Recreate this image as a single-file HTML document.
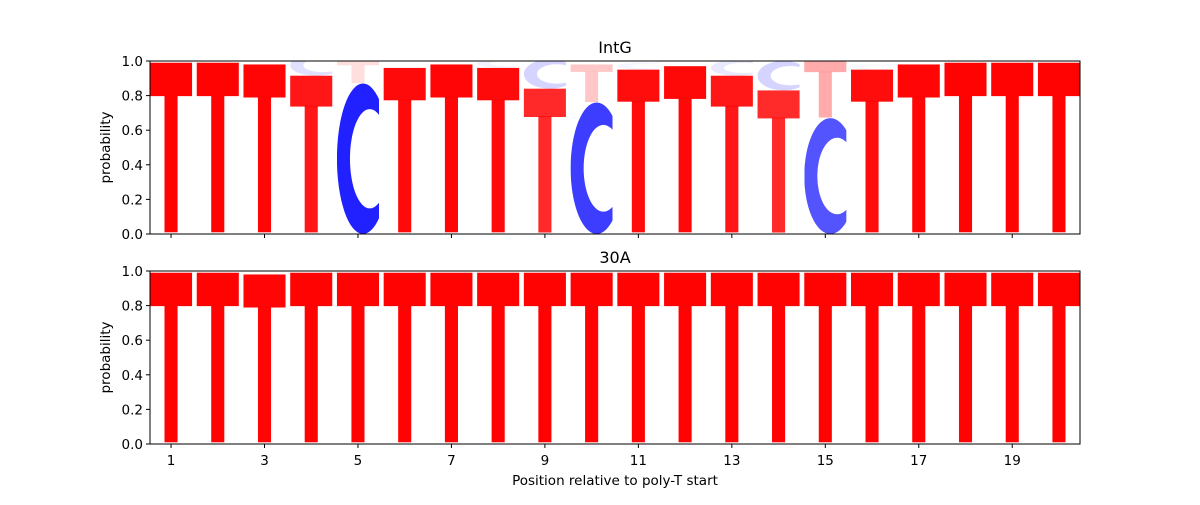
<!DOCTYPE html>
<html><head><meta charset="utf-8"><style>
html,body{margin:0;padding:0;background:#fff;}
svg text{font-family:"DejaVu Sans","Liberation Sans",sans-serif;fill:#000;}
</style></head><body>
<svg id="chart" width="1200" height="500" viewBox="0 0 1200 500" xmlns="http://www.w3.org/2000/svg">
<defs id="defs"></defs>
</svg>
<script>
const positions=[1,2,3,4,5,6,7,8,9,10,11,12,13,14,15,16,17,18,19,20];
const intgT=[0.99,0.99,0.98,0.915,0.13,0.96,0.98,0.96,0.84,0.22,0.95,0.97,0.915,0.83,0.33,0.95,0.98,0.99,0.99,0.99];
const intgC=[0,0,0,0.12,0.87,0,0,0.05,0.17,0.76,0.04,0,0.09,0.17,0.67,0.03,0,0,0,0];
const a30T=[0.99,0.99,0.98,0.99,0.99,0.99,0.99,0.99,0.99,0.99,0.99,0.99,0.99,0.99,0.99,0.99,0.99,0.99,0.99,0.99];
const a30C=[0,0,0,0,0,0,0,0,0,0,0,0,0,0,0,0,0,0,0,0];
const yTicks=[0,0.2,0.4,0.6,0.8,1.0];
const xTicks=[1,3,5,7,9,11,13,15,17,19];

const NS="http://www.w3.org/2000/svg";
const svg=document.getElementById('chart');
const defs=document.getElementById('defs');
const X0=150,X1=1080,XMIN=0.55,XMAX=20.45;
function xs(v){return X0+(v-XMIN)/(XMAX-XMIN)*(X1-X0);}
function mk(tag,attrs,parent){const e=document.createElementNS(NS,tag);for(const k in attrs)e.setAttribute(k,attrs[k]);(parent||svg).appendChild(e);return e;}
let mid=0;

function panel(top,bottom,title,T,C,showXLabels,pname){
  const ys=v=>bottom-(v)*(bottom-top);
  const g=mk('g',{});
  
  
  const cp=mk('clipPath',{id:'clip-'+pname},defs);
  mk('rect',{x:X0,y:top,width:X1-X0,height:bottom-top},cp);
  const marks=mk('g',{'clip-path':'url(#clip-'+pname+')'},g);
  const uw=(X1-X0)/(XMAX-XMIN);
  positions.forEach((p,i)=>{
    const w=0.9*uw, x0=xs(p)-w/2;
    const stack=[];
    if(T[i]>0)stack.push(['T',T[i]]);
    if(C[i]>0)stack.push(['C',C[i]]);
    stack.sort((a,b)=>b[1]-a[1]);
    let base=0;
    stack.forEach(([L,v])=>{
      const yb=ys(base), yt=ys(base+v), h=yb-yt;
      if(L==='T'){
        const tg=mk('g',{fill:'#ff0000','fill-opacity':v},marks);
        
        
        mk('rect',{x:x0,y:yt,width:w,height:h*0.195},tg);
        const sw=0.28*uw;
        mk('rect',{x:xs(p)-sw/2,y:yt+h*0.19,width:sw,height:h*0.8},tg);
      }else{
        const id='m'+(mid++);
        const m=mk('mask',{id:id,maskUnits:'userSpaceOnUse',x:x0,y:yt-1,width:w,height:h+2},defs);
        mk('ellipse',{cx:x0+w*0.62,cy:yt+h/2,rx:w*0.62,ry:h*0.5,fill:'#fff'},m);
        mk('ellipse',{cx:x0+w*0.78,cy:yt+h/2,rx:w*0.47,ry:h*0.33,fill:'#000'},m);
        mk('rect',{x:x0+w*0.78,y:yt+h*0.22,width:w*0.5,height:h*0.56,fill:'#000'},m);
        const c=mk('rect',{x:x0,y:yt,width:w,height:h,fill:'#0000ff','fill-opacity':v,mask:'url(#'+id+')'},marks);
        
        
      }
      base+=v;
    });
  });
  const fr=mk('rect',{x:X0,y:top,width:X1-X0,height:bottom-top,fill:'none',stroke:'#000','stroke-width':1},g);
  
  
  yTicks.forEach(t=>{
    const y=ys(t);
    mk('line',{x1:X0-4,x2:X0,y1:y,y2:y,stroke:'#000'},g);
    const tx=mk('text',{x:X0-7,y:y+5,'text-anchor':'end','font-size':13.5},g);
    tx.textContent=t.toFixed(1);
    
    
  });
  xTicks.forEach(t=>{
    const x=xs(t);
    mk('line',{x1:x,x2:x,y1:bottom,y2:bottom+4,stroke:'#000'},g);
    if(showXLabels){
      const tx=mk('text',{x:x,y:bottom+21,'text-anchor':'middle','font-size':13.5},g);
      tx.textContent=t;
      
      
    }
  });
  const tt=mk('text',{x:(X0+X1)/2,y:top-8,'text-anchor':'middle','font-size':16},g);
  tt.textContent=title;
  
  
  const yl=mk('text',{x:0,y:0,'text-anchor':'middle','font-size':13.5,transform:'translate(110,'+((top+bottom)/2)+') rotate(-90)'},g);
  yl.textContent='probability';
  
  
}
panel(61,234,'IntG',intgT,intgC,false,'intg');
panel(271,444,'30A',a30T,a30C,true,'a30');
const xl=mk('text',{x:615,y:485,'text-anchor':'middle','font-size':13.5});
xl.textContent='Position relative to poly-T start';


</script>
</body></html>
